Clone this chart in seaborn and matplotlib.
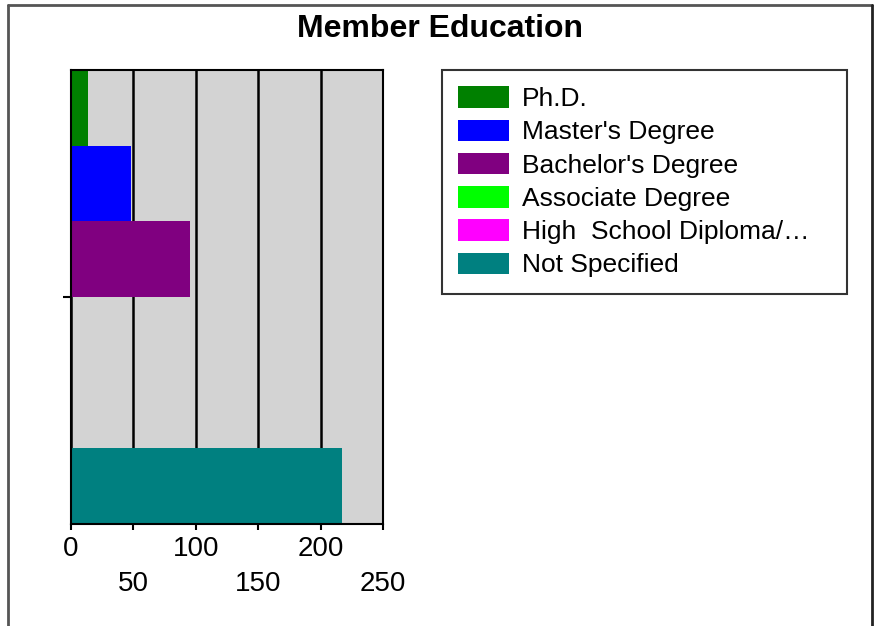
import numpy as np
import pandas as pd
import matplotlib
matplotlib.use("Agg")
import matplotlib.pyplot as plt
import seaborn as sns
from matplotlib.patches import Rectangle

# education counts
levels = ["Ph.D.", "Master's Degree", "Bachelor's Degree", "Associate Degree",
          "High  School Diploma/\u2026", "Not Specified"]
counts = [14, 48, 95, 0, 0, 217]
colors = ["#008000", "#0000FF", "#800080", "#00FF00", "#FF00FF", "#008080"]
xticks = [0, 50, 100, 150, 200, 250]
xlabels = ["0", "\n50", "100", "\n150", "200", "\n250"]

df = pd.DataFrame({"group": ["Members"] * len(levels), "level": levels, "count": counts})

sns.set_theme(style="white")
plt.rcParams["font.family"] = ["Liberation Sans", "DejaVu Sans"]
plt.rcParams["text.color"] = "black"
plt.rcParams["xtick.color"] = "black"
plt.rcParams["ytick.color"] = "black"

fig = plt.figure(figsize=(8.75, 6.26), dpi=100)
ax = fig.add_axes([71 / 875, 1 - 524 / 626, 312 / 875, 454 / 626])
ax.set_facecolor("#D3D3D3")

sns.barplot(data=df, x="count", y="group", hue="level", hue_order=levels,
            palette=colors, orient="h", width=1.0, saturation=1, ax=ax,
            edgecolor="none", linewidth=0, legend=False)

ax.set_xlim(0, 250)
ax.set_ylim(0.5, -0.5)
ax.set_axisbelow(True)
ax.xaxis.grid(True, color="black", linewidth=1.8)
ax.yaxis.grid(False)
ax.set_xticks(xticks)
ax.set_xticklabels(xlabels, fontsize=20, linespacing=1.43)
ax.set_yticks([0])
ax.set_yticklabels([""])
ax.tick_params(axis="x", bottom=True, direction="out", length=4, width=1.5,
               color="black", labelcolor="black", pad=5)
ax.tick_params(axis="y", left=True, direction="out", length=6, width=1.5, color="black")
ax.set_xlabel("")
ax.set_ylabel("")
for s in ax.spines.values():
    s.set_color("black")
    s.set_linewidth(1.5)

# legend, stretched to the box width of the original
handles = [Rectangle((0, 0), 1, 1, facecolor=c, edgecolor="none") for c in colors]
leg = fig.legend(handles, levels, loc="upper left",
                 bbox_to_anchor=(442 / 875, 1 - 293 / 626, 405 / 875, 223 / 626),
                 mode="expand",
                 fontsize=19, frameon=True, fancybox=False, borderpad=0.62,
                 handlelength=1.9, handleheight=0.87, handletextpad=0.5,
                 labelspacing=0.32, borderaxespad=0)
leg.get_frame().set_edgecolor("black")
leg.get_frame().set_linewidth(1.5)
for t in leg.get_texts():
    t.set_color("black")

fig.suptitle("Member Education", x=0.503, y=1 - 29 / 626, va="center",
             fontsize=23, fontweight="bold", color="black")

# figure border (no bottom edge)
fig.add_artist(plt.Line2D([8 / 875, 8 / 875], [0, 1 - 5 / 626], transform=fig.transFigure,
                          color="#555555", linewidth=2))
fig.add_artist(plt.Line2D([8 / 875, 872 / 875], [1 - 5 / 626, 1 - 5 / 626],
                          transform=fig.transFigure, color="#555555", linewidth=2))
fig.add_artist(plt.Line2D([872 / 875, 872 / 875], [0, 1 - 5 / 626], transform=fig.transFigure,
                          color="#222222", linewidth=2))

fig.savefig("out.png", dpi=100)
